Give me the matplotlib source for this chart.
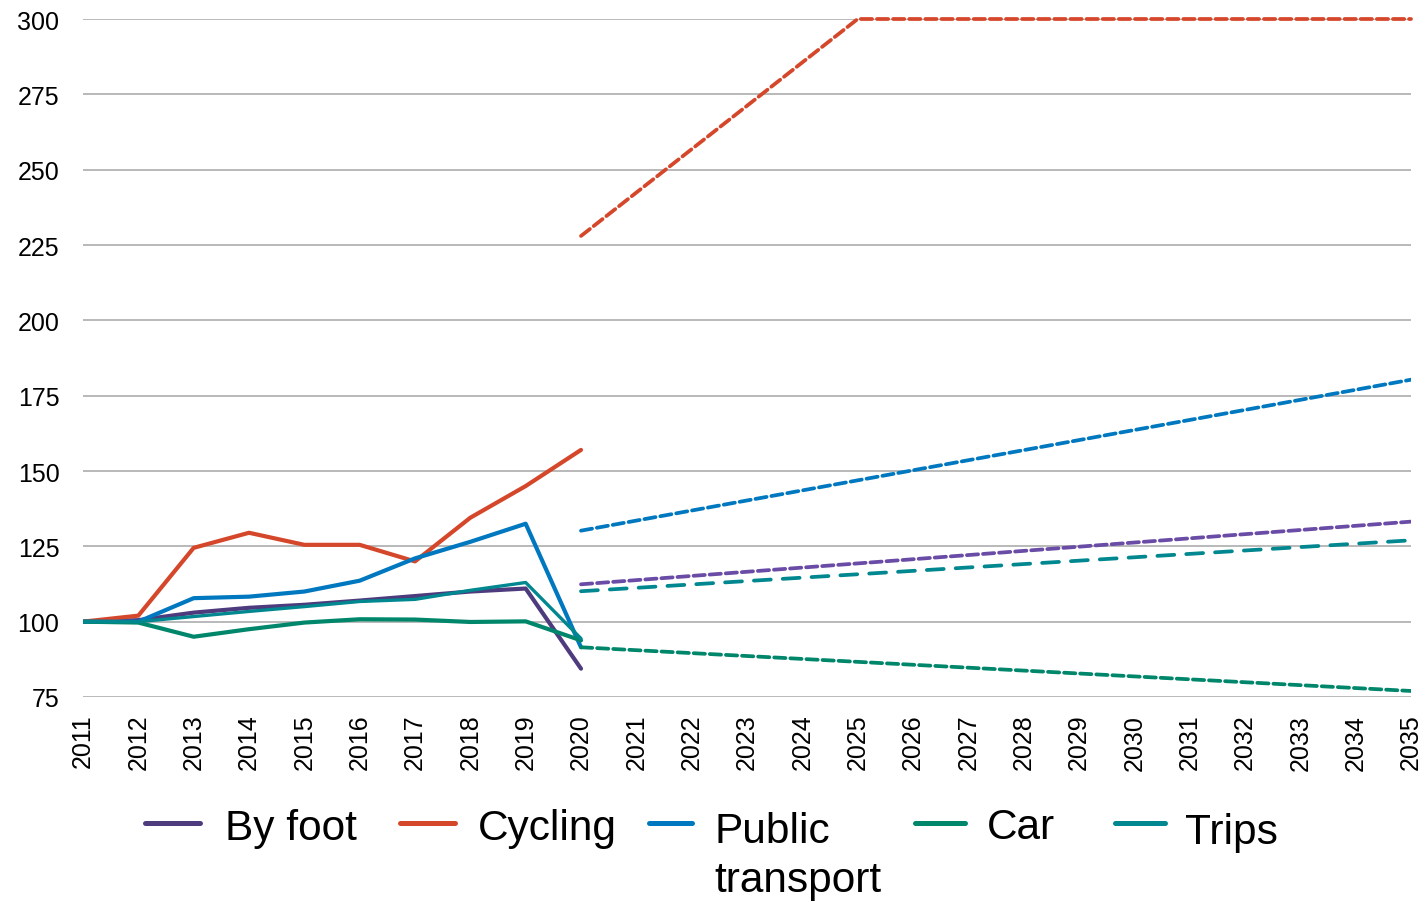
import matplotlib
matplotlib.use("Agg")
import matplotlib.pyplot as plt
from matplotlib.lines import Line2D

plt.rcParams['font.family'] = ['Liberation Sans', 'DejaVu Sans']

# ---- data ----
years_hist = [2011, 2012, 2013, 2014, 2015, 2016, 2017, 2018, 2019, 2020]
by_foot = [100, 100.5, 103, 104.6, 105.6, 107, 108.5, 110, 111, 84.4]
cycling = [100, 102, 124.5, 129.5, 125.5, 125.5, 120, 134.5, 145, 157]
public_transport = [100, 100, 107.8, 108.3, 110, 113.6, 121, 126.5, 132.5, 91.5]
car = [100, 99.7, 95, 97.5, 99.7, 100.8, 100.7, 99.9, 100.1, 93.8]
trips = [100, 100, 101.7, 103.4, 105, 106.7, 107.4, 110.4, 113, 94.4]

years_proj_cycling = [2020, 2025, 2035]
cycling_proj = [228, 300, 300]
years_proj = [2020, 2035]
public_proj = [130.2, 180.3]
by_foot_proj = [112.4, 133.2]
car_proj = [91.5, 77]
trips_proj = [110.1, 127]

x_ticks = list(range(2011, 2036))
y_ticks = [75, 100, 125, 150, 175, 200, 225, 250, 275, 300]

series_names = ["By foot", "Cycling", "Public\ntransport", "Car", "Trips"]
colors = {"foot": "#4E3B7D", "foot_proj": "#6A4CA6", "cyc": "#D5472A",
          "pt": "#0078C0", "car": "#00876B", "trips": "#00878F"}

# ---- figure ----
fig = plt.figure(figsize=(14.25, 9.03), dpi=100)
ax = fig.add_axes([83/1425, 1-698/903, (1411-83)/1425, (698-20)/903])

ax.set_xlim(2011, 2035)
ax.set_ylim(75, 300)
for y in y_ticks:
    ax.axhline(y, color="#A6A6A6", lw=1.1, zorder=0)

lw_solid = 3.0
lw_dash = 2.7
sysdash = (3, 1.3)
longdash = (4.5, 3.2)

ax.plot(years_hist, by_foot, color=colors["foot"], lw=lw_solid, solid_capstyle='round', solid_joinstyle='round', zorder=3)
ax.plot(years_hist, cycling, color=colors["cyc"], lw=lw_solid, solid_capstyle='round', solid_joinstyle='round', zorder=3)
ax.plot(years_hist, public_transport, color=colors["pt"], lw=lw_solid, solid_capstyle='round', solid_joinstyle='round', zorder=3)
ax.plot(years_hist, car, color=colors["car"], lw=lw_solid, solid_capstyle='round', solid_joinstyle='round', zorder=3)
ax.plot(years_hist, trips, color=colors["trips"], lw=lw_solid - 0.6, solid_capstyle='round', solid_joinstyle='round', zorder=3)

ax.plot(years_proj, by_foot_proj, color=colors["foot_proj"], lw=lw_dash, dashes=sysdash, dash_capstyle='round', zorder=3)
ax.plot(years_proj_cycling, cycling_proj, color=colors["cyc"], lw=lw_dash, dashes=sysdash, dash_capstyle='round', zorder=3, clip_on=False)
ax.plot(years_proj, public_proj, color=colors["pt"], lw=lw_dash, dashes=sysdash, dash_capstyle='round', zorder=3)
ax.plot(years_proj, car_proj, color=colors["car"], lw=lw_dash, dashes=sysdash, dash_capstyle='round', zorder=3)
ax.plot(years_proj, trips_proj, color=colors["trips"], lw=lw_dash, dashes=longdash, dash_capstyle='round', zorder=3)

ax.set_xticks(x_ticks)
ax.set_xticklabels([str(x) for x in x_ticks], rotation=90, fontsize=18)
ax.set_yticks(y_ticks)
ax.set_yticklabels([str(y) for y in y_ticks], fontsize=18)
ax.tick_params(axis='both', length=0)
ax.tick_params(axis='y', pad=17)
ax.tick_params(axis='x', pad=12)
for s in ax.spines.values():
    s.set_visible(False)

# ---- legend (manual, top-aligned multi-line text like the original) ----
leg_colors = [colors["foot"], colors["cyc"], colors["pt"], colors["car"], colors["trips"]]
handle_x = [145, 400, 649, 915, 1115]
handle_len = [55, 55, 43, 50, 50]
text_x = [225, 478, 714, 987, 1185]
baselines = [840, 840, 843, 839, 844]
for name, c, hx, hl, tx, by in zip(series_names, leg_colors, handle_x, handle_len, text_x, baselines):
    fig.add_artist(Line2D([hx/1425, (hx+hl)/1425], [1-824/903, 1-824/903],
                          color=c, lw=3.6, solid_capstyle='round', transform=fig.transFigure))
    for i, part in enumerate(name.split("\n")):
        fig.text(tx/1425, 1-(by + 49*i)/903, part, fontsize=30.5, va='baseline', ha='left',
                 color='black')

fig.savefig("out.png", dpi=100)
